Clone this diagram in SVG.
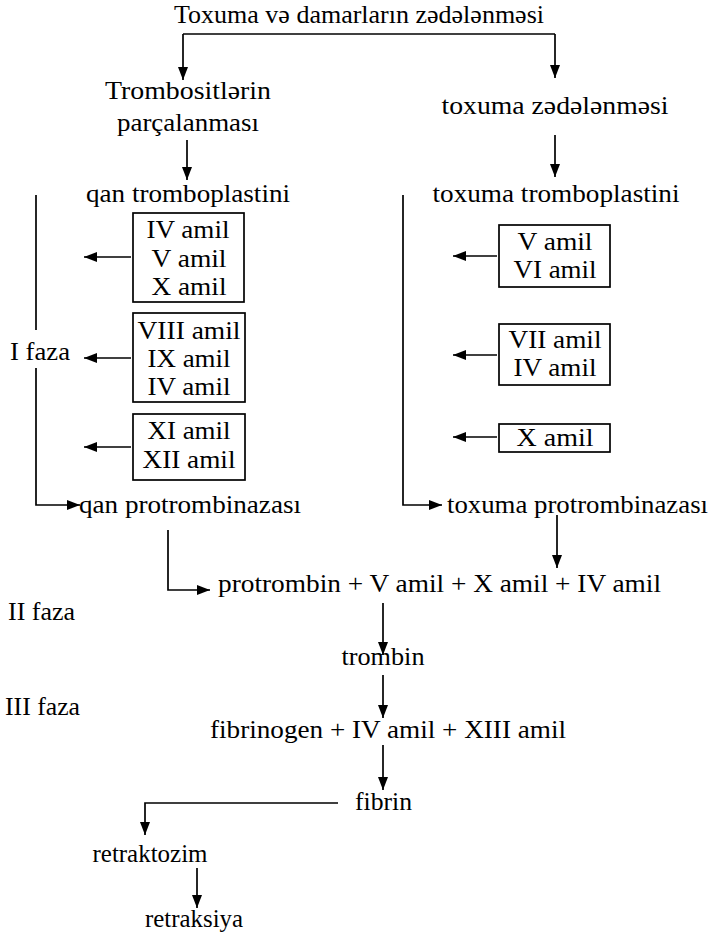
<svg xmlns="http://www.w3.org/2000/svg" width="713" height="938" viewBox="0 0 713 938">
<defs>
<marker id="ah" markerWidth="13" markerHeight="10" refX="13" refY="5" orient="auto" markerUnits="userSpaceOnUse"><path d="M0,0 L13,5 L0,10 Z" fill="#000"/></marker>
</defs>
<style>
text{font-family:"Liberation Serif","DejaVu Serif","Times New Roman",serif;font-size:25px;fill:#000}
.c{text-anchor:middle}
.ln{fill:none;stroke:#000;stroke-width:1.7}
.ar{fill:none;stroke:#000;stroke-width:1.7;marker-end:url(#ah)}
.box{fill:#fff;stroke:#000;stroke-width:1.7}
</style>
<rect width="713" height="938" fill="#fff"/>
<g id="connectors">
<path class="ln" d="M183,34 H555"/>
<path class="ar" d="M183,34 V80"/>
<path class="ar" d="M555,34 V78"/>
<path class="ar" d="M187,140 V180"/>
<path class="ar" d="M555,135 V177"/>
<path class="ln" d="M36,195 V330"/>
<path class="ar" d="M36,368 V505 H80"/>
<path class="ar" d="M403,195 V505 H442"/>
<path class="ar" d="M131,257 H84"/>
<path class="ar" d="M131,358 H84"/>
<path class="ar" d="M131,447 H84"/>
<path class="ar" d="M497,256 H453"/>
<path class="ar" d="M497,355 H453"/>
<path class="ar" d="M497,437 H453"/>
<path class="ar" d="M168,530 V590 H210"/>
<path class="ar" d="M557,515 V568"/>
<path class="ar" d="M383,603 V655"/>
<path class="ar" d="M383,675 V718"/>
<path class="ar" d="M383,745 V790"/>
<path class="ar" d="M338,803 H145 V835"/>
<path class="ar" d="M197,868 V908"/>
</g>
<g id="n-title"><text class="c" x="359" y="23" textLength="370" lengthAdjust="spacingAndGlyphs">Toxuma və damarların zədələnməsi</text></g>
<g id="n-trombosit"><text class="c" x="188" y="99" textLength="166" lengthAdjust="spacingAndGlyphs">Trombositlərin</text><text class="c" x="188" y="131" textLength="142" lengthAdjust="spacingAndGlyphs">parçalanması</text></g>
<g id="n-toxzed"><text class="c" x="555" y="114" textLength="227" lengthAdjust="spacingAndGlyphs">toxuma zədələnməsi</text></g>
<g id="n-qantrom"><text class="c" x="188" y="202" textLength="204" lengthAdjust="spacingAndGlyphs">qan tromboplastini</text></g>
<g id="n-toxtrom"><text class="c" x="556" y="202" textLength="247" lengthAdjust="spacingAndGlyphs">toxuma tromboplastini</text></g>
<g id="n-boxL1"><rect class="box" x="133" y="213" width="111" height="89"/><text class="c" x="188" y="238" textLength="83" lengthAdjust="spacingAndGlyphs">IV amil</text><text class="c" x="189" y="267" textLength="75" lengthAdjust="spacingAndGlyphs">V amil</text><text class="c" x="189" y="295" textLength="75" lengthAdjust="spacingAndGlyphs">X amil</text></g>
<g id="n-boxL2"><rect class="box" x="133" y="313" width="112" height="89"/><text class="c" x="189" y="339" textLength="103" lengthAdjust="spacingAndGlyphs">VIII amil</text><text class="c" x="189" y="367" textLength="83" lengthAdjust="spacingAndGlyphs">IX amil</text><text class="c" x="189" y="395" textLength="83" lengthAdjust="spacingAndGlyphs">IV amil</text></g>
<g id="n-boxL3"><rect class="box" x="133" y="414" width="112" height="66"/><text class="c" x="189" y="439" textLength="83" lengthAdjust="spacingAndGlyphs">XI amil</text><text class="c" x="189" y="468" textLength="93" lengthAdjust="spacingAndGlyphs">XII amil</text></g>
<g id="n-boxR1"><rect class="box" x="499" y="225" width="111" height="62"/><text class="c" x="555" y="250" textLength="75" lengthAdjust="spacingAndGlyphs">V amil</text><text class="c" x="555" y="278" textLength="83" lengthAdjust="spacingAndGlyphs">VI amil</text></g>
<g id="n-boxR2"><rect class="box" x="499" y="324" width="111" height="61"/><text class="c" x="555" y="348" textLength="93" lengthAdjust="spacingAndGlyphs">VII amil</text><text class="c" x="555" y="376" textLength="83" lengthAdjust="spacingAndGlyphs">IV amil</text></g>
<g id="n-boxR3"><rect class="box" x="499" y="424" width="111" height="28"/><text class="c" x="555" y="446" textLength="77" lengthAdjust="spacingAndGlyphs">X amil</text></g>
<g id="n-faza1"><text x="10" y="360" textLength="60" lengthAdjust="spacingAndGlyphs">I faza</text></g>
<g id="n-qanprot"><text x="79" y="513" textLength="222" lengthAdjust="spacingAndGlyphs">qan protrombinazası</text></g>
<g id="n-toxprot"><text x="447" y="513" textLength="261" lengthAdjust="spacingAndGlyphs">toxuma protrombinazası</text></g>
<g id="n-faza2"><text x="8" y="620" textLength="67" lengthAdjust="spacingAndGlyphs">II faza</text></g>
<g id="n-protrombin"><text x="218" y="592" textLength="443" lengthAdjust="spacingAndGlyphs">protrombin + V amil + X amil + IV amil</text></g>
<g id="n-trombin"><text class="c" x="383" y="665" textLength="83" lengthAdjust="spacingAndGlyphs">trombin</text></g>
<g id="n-faza3"><text x="5" y="715" textLength="75" lengthAdjust="spacingAndGlyphs">III faza</text></g>
<g id="n-fibrinogen"><text x="210" y="738" textLength="356" lengthAdjust="spacingAndGlyphs">fibrinogen + IV amil + XIII amil</text></g>
<g id="n-fibrin"><text x="355" y="810" textLength="57" lengthAdjust="spacingAndGlyphs">fibrin</text></g>
<g id="n-retraktozim"><text class="c" x="150" y="862" textLength="115" lengthAdjust="spacingAndGlyphs">retraktozim</text></g>
<g id="n-retraksiya"><text class="c" x="194" y="927" textLength="98" lengthAdjust="spacingAndGlyphs">retraksiya</text></g>
</svg>
